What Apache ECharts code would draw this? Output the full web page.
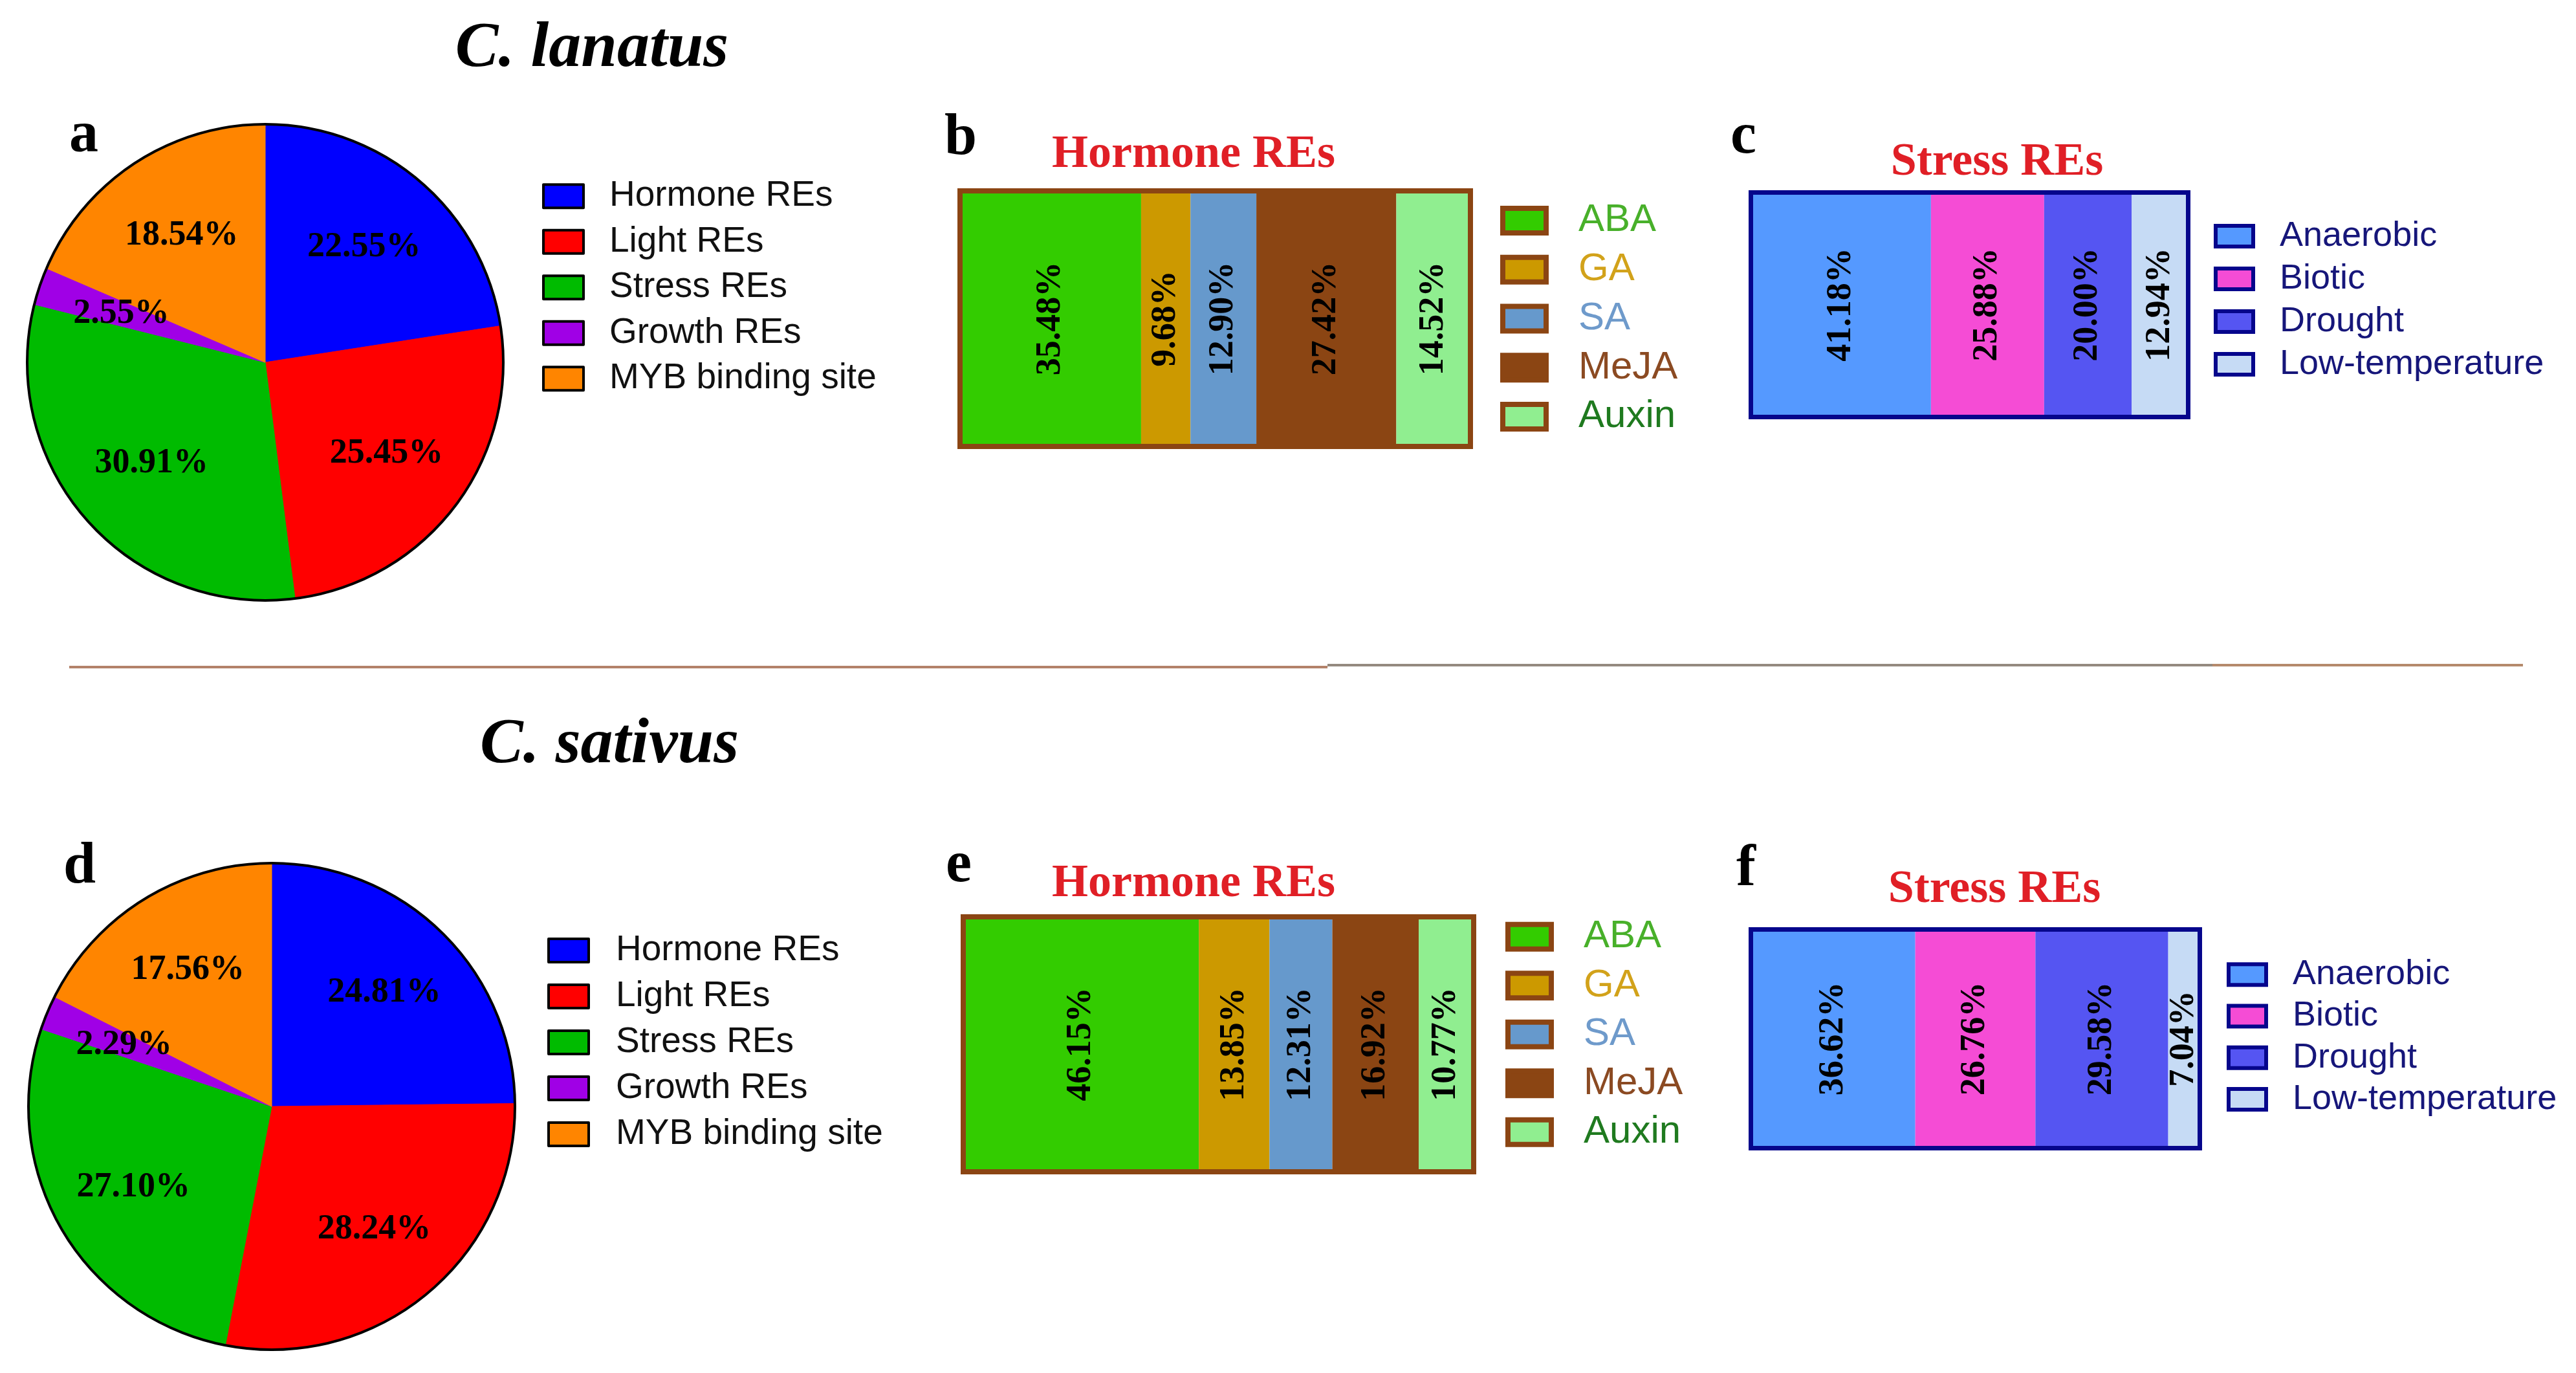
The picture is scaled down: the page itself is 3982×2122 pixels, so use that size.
<!DOCTYPE html>
<html>
<head>
<meta charset="utf-8">
<script src="https://cdn.jsdelivr.net/npm/echarts@6/dist/echarts.min.js"></script>
<style>
html,body{margin:0;padding:0;background:#ffffff;}
#chart{width:3982px;height:2122px;}
</style>
</head>
<body>
<div id="chart"></div>
<script>
// ---------------- DATA ----------------
const pieCategories = ['Hormone REs', 'Light REs', 'Stress REs', 'Growth REs', 'MYB binding site'];
const pieLanatus = [22.55, 25.45, 30.91, 2.55, 18.54];
const pieSativus = [24.81, 28.24, 27.10, 2.29, 17.56];

const hormoneCategories = ['ABA', 'GA', 'SA', 'MeJA', 'Auxin'];
const hormoneLanatus = [35.48, 9.68, 12.90, 27.42, 14.52];
const hormoneSativus = [46.15, 13.85, 12.31, 16.92, 10.77];

const stressCategories = ['Anaerobic', 'Biotic', 'Drought', 'Low-temperature'];
const stressLanatus = [41.18, 25.88, 20.00, 12.94];
const stressSativus = [36.62, 26.76, 29.58, 7.04];

const speciesTitles = ['C. lanatus', 'C. sativus'];
const panelTitles = ['Hormone REs', 'Stress REs'];
const panelLetters = ['a', 'b', 'c', 'd', 'e', 'f'];

// ---------------- STYLE ----------------
const SERIF = '"Liberation Serif", "Times New Roman", serif';
const SANS = '"Liberation Sans", Arial, sans-serif';
const pieColors = ['#0000ff', '#ff0000', '#00bb00', '#a000e6', '#ff8500'];
const hormoneColors = ['#33cc00', '#cc9900', '#6699cc', '#8b4513', '#90ee90'];
const hormoneTextColors = ['#48b02a', '#d2a21a', '#6e9acb', '#8b4a22', '#1f7a1f'];
const stressColors = ['#5599ff', '#f54cd5', '#5555f2', '#c6dbf5'];
const stressTextColors = ['#16167a', '#16167a', '#16167a', '#16167a'];
const HORMONE_BORDER = '#8b4513';
const STRESS_BORDER = '#06068c';
const TITLE_RED = '#e01f26';

const pct = p => Number(p.value).toFixed(2) + '%';

function pieSeries(values, cx, cy, r, labelRatio) {
  const colored = {
    type: 'pie', center: [cx, cy], radius: [0, r], startAngle: 90, clockwise: true,
    avoidLabelOverlap: false, silent: true, animation: false,
    data: pieCategories.map((n, i) => ({
      name: n, value: values[i],
      itemStyle: { color: pieColors[i], borderColor: pieColors[i], borderWidth: 1 }
    })),
    label: { show: false }, labelLine: { show: false },
    emphasis: { disabled: true }
  };
  const labels = {
    type: 'pie', center: [cx, cy], radius: [r * (2 * labelRatio - 1), r], startAngle: 90, clockwise: true,
    avoidLabelOverlap: false, silent: true, animation: false, z: 5,
    data: pieCategories.map((n, i) => ({ name: n, value: values[i] })),
    itemStyle: { color: 'rgba(0,0,0,0)', borderWidth: 0 },
    label: {
      show: true, position: 'inside', formatter: pct, color: '#000',
      fontFamily: SERIF, fontWeight: 'bold', fontSize: 54
    },
    labelLine: { show: false },
    emphasis: { disabled: true }
  };
  return [colored, labels];
}

function barSeries(cats, values, colors, idx, stackId) {
  return cats.map((n, i) => ({
    type: 'bar', name: n, stack: stackId, xAxisIndex: idx, yAxisIndex: idx,
    barWidth: '100%', data: [values[i]],
    itemStyle: { color: colors[i], borderWidth: 0 },
    label: {
      show: true, position: 'inside', rotate: 90, formatter: pct, color: '#000',
      fontFamily: SERIF, fontWeight: 'bold', fontSize: 54
    },
    emphasis: { disabled: true }, silent: true, animation: false
  }));
}

function legend(names, left, top, iw, ih, rowH, textPad, fontSize, borderColor, borderWidth, textColors) {
  return {
    orient: 'vertical', left: left, top: top, itemWidth: iw, itemHeight: ih,
    itemGap: 0, padding: 0, icon: 'rect', selectedMode: false,
    data: names.map((n, i) => ({ name: n, textStyle: { color: textColors[i] } })),
    textStyle: { fontFamily: SANS, fontSize: fontSize, lineHeight: rowH, padding: [0, 0, 0, textPad] },
    itemStyle: { borderColor: borderColor, borderWidth: borderWidth }
  };
}

// layout constants
const PIE_A = { cx: 410, cy: 560, r: 368 };
const PIE_D = { cx: 420, cy: 1710, r: 376 };
const grids = [
  { left: 1484, top: 295, width: 789, height: 395, borderColor: HORMONE_BORDER, borderWidth: 8 },   // b
  { left: 2706.5, top: 297.5, width: 676, height: 347, borderColor: STRESS_BORDER, borderWidth: 7 }, // c
  { left: 1489, top: 1417, width: 789, height: 394, borderColor: HORMONE_BORDER, borderWidth: 8 },   // e
  { left: 2706.5, top: 1436.5, width: 694, height: 338, borderColor: STRESS_BORDER, borderWidth: 7 } // f
];

function txt(text, x, y, font, fill, align) {
  return {
    type: 'text', x: x, y: y, z: 100, silent: true,
    style: { text: text, font: font, fill: fill, align: align || 'center', verticalAlign: 'middle' }
  };
}

const titleFont = 'italic bold 100px ' + SERIF;
const subFont = 'bold 72px ' + SERIF;
const letterFont = 'bold 90px ' + SERIF;

const graphic = [
  txt(speciesTitles[0], 915, 76, titleFont, '#000'),
  txt(speciesTitles[1], 942, 1152, titleFont, '#000'),
  txt(panelTitles[0], 1845, 239, subFont, TITLE_RED),
  txt(panelTitles[1], 3087, 251, subFont, TITLE_RED),
  txt(panelTitles[0], 1845, 1366, subFont, TITLE_RED),
  txt(panelTitles[1], 3083, 1375, subFont, TITLE_RED),
  txt(panelLetters[0], 107, 211, letterFont, '#000', 'left'),
  txt(panelLetters[1], 1460, 215, letterFont, '#000', 'left'),
  txt(panelLetters[2], 2675, 213, letterFont, '#000', 'left'),
  txt(panelLetters[3], 98, 1341, letterFont, '#000', 'left'),
  txt(panelLetters[4], 1462, 1339, letterFont, '#000', 'left'),
  txt(panelLetters[5], 2684, 1345, letterFont, '#000', 'left'),
  { type: 'circle', z: 100, silent: true, shape: { cx: PIE_A.cx, cy: PIE_A.cy, r: PIE_A.r },
    style: { fill: 'none', stroke: '#000', lineWidth: 4 } },
  { type: 'circle', z: 100, silent: true, shape: { cx: PIE_D.cx, cy: PIE_D.cy, r: PIE_D.r },
    style: { fill: 'none', stroke: '#000', lineWidth: 4 } },
  { type: 'line', z: 100, silent: true, shape: { x1: 107, y1: 1031, x2: 2052, y2: 1031 },
    style: { stroke: '#b3826a', lineWidth: 4 } },
  { type: 'line', z: 100, silent: true, shape: { x1: 2052, y1: 1028, x2: 3420, y2: 1028 },
    style: { stroke: '#948a7f', lineWidth: 4 } },
  { type: 'line', z: 100, silent: true, shape: { x1: 3420, y1: 1028, x2: 3900, y2: 1028 },
    style: { stroke: '#b58a6c', lineWidth: 4 } }
];

const option = {
  backgroundColor: '#ffffff',
  animation: false,
  grid: grids.map(g => ({
    left: g.left, top: g.top, width: g.width, height: g.height,
    show: true, z: 10, backgroundColor: 'transparent',
    borderColor: g.borderColor, borderWidth: g.borderWidth, containLabel: false
  })),
  xAxis: grids.map((g, i) => ({ type: 'value', gridIndex: i, min: 0, max: 100, show: false })),
  yAxis: grids.map((g, i) => ({ type: 'category', gridIndex: i, data: [''], show: false })),
  legend: [
    legend(pieCategories, 838, 268, 62, 36, 70.5, 35, 55, '#000', 4, ['#111', '#111', '#111', '#111', '#111']),
    legend(pieCategories, 846, 1433.5, 62, 36, 71, 37, 55, '#000', 4, ['#111', '#111', '#111', '#111', '#111']),
    legend(hormoneCategories, 2319, 303, 67, 38, 75.75, 45, 60, HORMONE_BORDER, 8, hormoneTextColors),
    legend(hormoneCategories, 2327, 1410, 67, 38, 75.5, 45, 60, HORMONE_BORDER, 8, hormoneTextColors),
    legend(stressCategories, 3422, 332, 58, 32, 66, 36, 54, STRESS_BORDER, 6, stressTextColors),
    legend(stressCategories, 3442, 1474, 58, 32, 64.3, 36, 54, STRESS_BORDER, 6, stressTextColors)
  ],
  graphic: graphic,
  series: [].concat(
    pieSeries(pieLanatus, PIE_A.cx, PIE_A.cy, PIE_A.r, 0.63),
    pieSeries(pieSativus, PIE_D.cx, PIE_D.cy, PIE_D.r, 0.65),
    barSeries(hormoneCategories, hormoneLanatus, hormoneColors, 0, 'hb'),
    barSeries(stressCategories, stressLanatus, stressColors, 1, 'sc'),
    barSeries(hormoneCategories, hormoneSativus, hormoneColors, 2, 'he'),
    barSeries(stressCategories, stressSativus, stressColors, 3, 'sf')
  )
};

const chart = echarts.init(document.getElementById('chart'), null, { renderer: 'canvas' });
chart.setOption(option);
</script>
</body>
</html>
